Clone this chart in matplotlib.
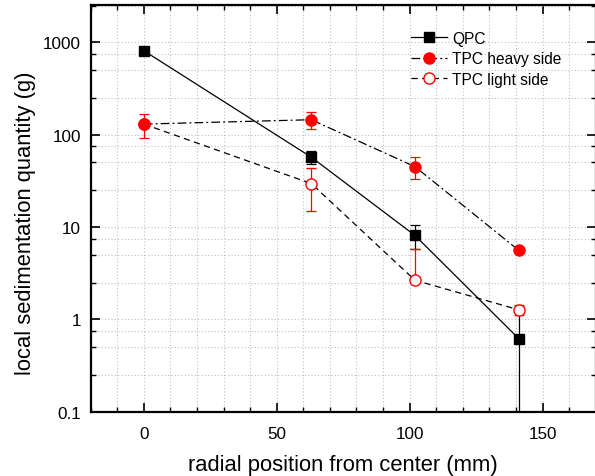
import matplotlib
matplotlib.use("Agg")
import matplotlib.pyplot as plt
from matplotlib.ticker import MultipleLocator, LogLocator, FixedLocator, NullFormatter, FuncFormatter
from matplotlib.lines import Line2D

plt.rcParams['font.family'] = ['Liberation Sans', 'DejaVu Sans']

# Data
x_pos = [0, 63, 102, 141]
qpc = [810, 57, 8.1, 0.62]
qpc_err = [0, 9, 2.3, 0.6]
heavy = [130, 145, 45, 5.6]
heavy_err = [37, 29, 12, 0]
light = [130, 29.5, 2.65, 1.27]
light_err_low = [0, 14.5, 0, 0.16]
light_err_high = [0, 14.5, 3.1, 0.16]

xticks = [0, 50, 100, 150]
yticks = [0.1, 1, 10, 100, 1000]
ytick_labels = ['0.1', '1', '10', '100', '1000']
series_names = ['QPC', 'TPC heavy side', 'TPC light side']

fig = plt.figure(figsize=(5.95, 4.77), dpi=100)
ax = fig.add_axes([0.1524, 0.1348, 1.0012 - 0.1524, 0.988 - 0.1348])

ax.set_yscale('log')
ax.set_xlim(-20, 170)
ax.set_ylim(0.1, 2550)

lw = 0.9
cap = 3.3
dash_light = (0, (5, 3.5))
dash_heavy = (0, (7, 2.5, 1.5, 2.5))

ax.errorbar(x_pos, qpc, yerr=qpc_err, color='black', marker='s', ms=7.2,
            ls='-', lw=lw, elinewidth=lw, capsize=cap, capthick=lw, zorder=3)
ax.errorbar(x_pos, light, yerr=[light_err_low, light_err_high], color='black',
            ecolor='red', marker='o', ms=8, mfc='white', mec='red', mew=1.0,
            ls=dash_light, lw=lw, elinewidth=lw, capsize=cap, capthick=lw, zorder=4)
ax.errorbar(x_pos, heavy, yerr=heavy_err, color='black', ecolor='red',
            marker='o', ms=8, mfc='red', mec='red',
            ls=dash_heavy, lw=lw, elinewidth=lw, capsize=cap, capthick=lw, zorder=5)

ax.xaxis.set_major_locator(FixedLocator(xticks))
ax.xaxis.set_minor_locator(MultipleLocator(10))
ax.yaxis.set_major_locator(FixedLocator(yticks))
ax.yaxis.set_major_formatter(FuncFormatter(lambda v, p: ytick_labels[yticks.index(v)] if v in yticks else ''))
ax.yaxis.set_minor_locator(LogLocator(base=10, subs=[2.5, 5, 7.5], numticks=20))
ax.yaxis.set_minor_formatter(NullFormatter())

ax.tick_params(which='major', direction='in', length=6.5, width=1.2,
               top=True, right=True, labelsize=12.3, pad=7, colors='black')
ax.tick_params(which='minor', direction='in', length=3.5, width=1.0,
               top=True, right=True)
ax.tick_params(axis='x', which='major', pad=10.5)

ax.grid(True, which='both', axis='both', ls=(0, (1, 2)), color='#c0c0c0', lw=0.8)
ax.set_axisbelow(True)

for s in ax.spines.values():
    s.set_linewidth(1.6)

ax.set_xlabel('radial position from center (mm)', fontsize=15.8)
ax.set_ylabel('local sedimentation quantity (g)', fontsize=15.8)
ax.xaxis.set_label_coords(0.5, -0.103)
ax.yaxis.set_label_coords(-0.108, 0.465)

handles = [
    Line2D([], [], color='black', ls='-', lw=lw, marker='s', ms=7.2),
    Line2D([], [], color='black', ls=dash_heavy, lw=lw, marker='o', ms=8, mfc='red', mec='red'),
    Line2D([], [], color='black', ls=dash_light, lw=lw, marker='o', ms=8, mfc='white', mec='red', mew=1.0),
]
ax.legend(handles=handles, labels=series_names,
          loc='upper left', bbox_to_anchor=(0.606, 0.97), frameon=False,
          fontsize=11.2, handlelength=2.3, handletextpad=0.35, labelspacing=0.35)

fig.savefig('out.png', dpi=100)
